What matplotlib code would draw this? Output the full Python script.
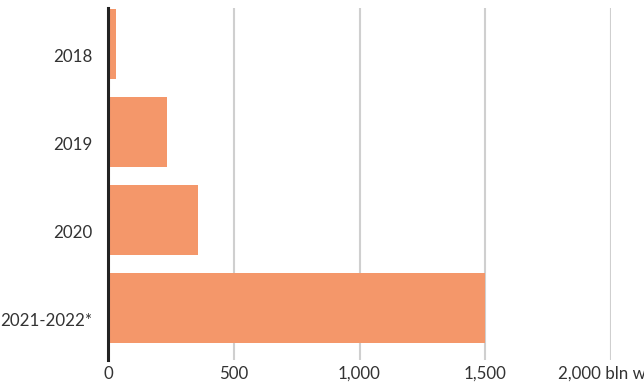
import matplotlib
matplotlib.use("Agg")
import matplotlib.pyplot as plt
from matplotlib.transforms import ScaledTranslation

categories = ["2018", "2019", "2020", "2021-2022*"]
values = [31, 235, 358, 1500]
x_ticks = [0, 500, 1000, 1500, 2000]
x_tick_labels = ["0", "500", "1,000", "1,500", "2,000 bln won"]

plt.rcParams["font.family"] = ["Lato", "DejaVu Sans"]

W, H = 644, 389
fig = plt.figure(figsize=(W / 100, H / 100), dpi=100)
left, right, top, bottom = 108, 611, 8, 360
ax = fig.add_axes([left / W, 1 - bottom / H, (right - left) / W, (bottom - top) / H])

ypos = list(range(len(categories)))
ax.barh(ypos, values, height=0.8, color="#F4976A", zorder=2)

ax.set_xlim(0, 2000)
ax.set_ylim(3.59, -0.41)
ax.set_xticks(x_ticks)
ax.set_xticklabels(x_tick_labels)
ax.set_yticks(ypos)
ax.set_yticklabels(categories)

ax.grid(axis="x", color="#cfcfcf", linewidth=1.5, zorder=0)
ax.grid(axis="y", visible=False)
for s in ["top", "right", "bottom"]:
    ax.spines[s].set_visible(False)
ax.spines["left"].set_color("#222222")
ax.spines["left"].set_linewidth(2.2)
ax.spines["left"].set_zorder(3)
ax.tick_params(axis="both", length=0, labelsize=12.2, labelcolor="#333333")
ax.tick_params(axis="y", pad=11)
ax.tick_params(axis="x", pad=4)

# category labels sit a little below the bar centres
shift = ScaledTranslation(0, -0.11, fig.dpi_scale_trans)
for lbl in ax.get_yticklabels():
    lbl.set_transform(lbl.get_transform() + shift)

fig.savefig("out.png", dpi=100)
